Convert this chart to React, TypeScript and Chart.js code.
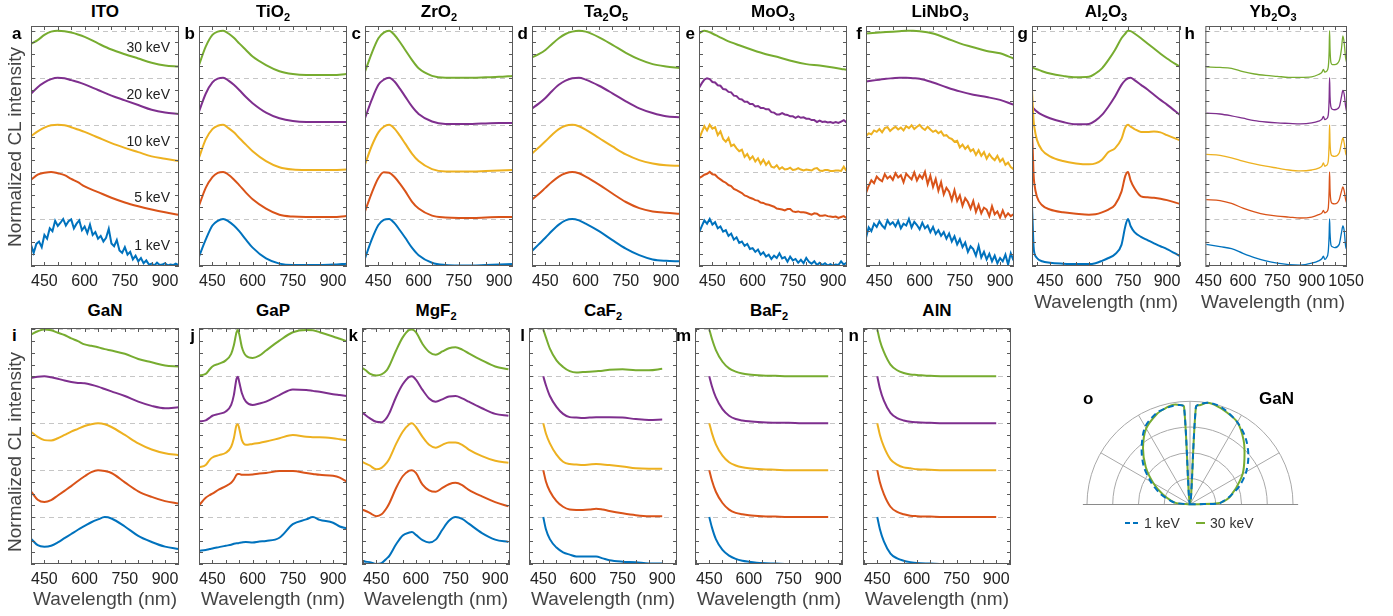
import React, { useEffect, useRef } from 'react';
import { Chart, registerables } from 'chart.js';

Chart.register(...registerables);

const FONT = '"Liberation Sans", Arial, Helvetica, sans-serif';
const COLORS = ['#0072BD', '#D95319', '#EDB120', '#7E2F8E', '#77AC30'];
const ENERGIES = ['1 keV', '5 keV', '10 keV', '20 keV', '30 keV'];
const XTICKS = [450, 600, 750, 900];
const XTICKS_YB = [450, 600, 750, 900, 1050];

// shared wavelength grids (nm)
const X10 = [400,410,420,430,440,450,460,470,480,490,500,510,520,530,540,550,560,570,580,590,600,610,620,630,640,650,660,670,680,690,700,710,720,730,740,750,760,770,780,790,800,810,820,830,840,850,860,870,880,890,900,910,920,930,940,950];
const X16 = [400,425,450,475,500,525,550,575,600,650,700,750,800,850,900,950];
const XPK = [400,425,450,470,490,510,530,550,575,600,650,700,750,800,850,900,950];

// a ITO
const ITO_30 = [.72,.80,.91,.98,1.0,.99,.96,.92,.87,.73,.60,.50,.41,.32,.26,.24];
const ITO_20 = [.66,.80,.90,.97,1.0,.99,.95,.91,.86,.74,.62,.52,.42,.32,.26,.23];
const ITO_10 = [.76,.86,.94,.99,1.0,.99,.95,.90,.85,.73,.61,.51,.42,.33,.28,.23];
const ITO_5 = [.83,.94,.98,1.0,.97,.93,.85,.78,.69,.57,.45,.35,.27,.20,.14,.09];
const ITO_1 = [.45,.28,.47,.52,.40,.66,.58,.80,.74,.96,.85,.92,1.0,.86,.95,.99,.80,.90,.97,.76,.84,.70,.88,.66,.72,.58,.64,.52,.60,.79,.48,.42,.55,.33,.28,.40,.24,.30,.14,.22,.10,.17,.06,.12,.03,.05,.01,.07,.02,.03,.06,.01,.03,.02,.05,.02];

// b TiO2
const TIO2_30 = [.27,.66,.91,.98,1.0,.94,.85,.73,.59,.45,.27,.14,.08,.06,.06,.06,.08];
const TIO2_20 = [.28,.66,.90,.98,1.0,.94,.85,.74,.59,.46,.26,.14,.08,.06,.06,.06,.06];
const TIO2_10 = [.30,.69,.91,.98,1.0,.93,.84,.72,.58,.44,.23,.10,.05,.04,.04,.04,.05];
const TIO2_5 = [.28,.66,.89,.98,1.0,.94,.84,.72,.56,.42,.22,.09,.05,.04,.04,.04,.06];
const TIO2_1 = [.20,.56,.86,.96,1.0,.95,.86,.74,.56,.39,.16,.05,.02,.02,.02,.03,.05];

// c ZrO2
const ZRO2_30 = [.13,.52,.84,.96,1.0,.91,.76,.59,.38,.20,.04,0,0,0,.01,.02,.04];
const ZRO2_20 = [.14,.53,.85,.96,1.0,.92,.77,.60,.39,.23,.07,.02,.02,.02,.03,.04,.04];
const ZRO2_10 = [.16,.55,.84,.96,1.0,.92,.77,.60,.39,.23,.06,.01,.01,.01,.02,.03,.04];
const ZRO2_5 = [.16,.55,.87,.99,.98,.89,.75,.59,.37,.22,.07,.03,.02,.02,.03,.04,.04];
const ZRO2_1 = [.16,.56,.87,.98,1.0,.91,.76,.60,.39,.23,.07,.02,.01,.01,.02,.03,.04];

// d Ta2O5
const TA2O5_30 = [.43,.50,.59,.72,.84,.93,.98,1.0,.98,.86,.70,.53,.39,.29,.24,.21];
const TA2O5_20 = [.35,.45,.57,.72,.85,.94,.99,1.0,.96,.83,.67,.50,.35,.25,.18,.16];
const TA2O5_10 = [.39,.52,.65,.79,.91,.98,1.0,.97,.90,.72,.54,.37,.25,.18,.14,.13];
const TA2O5_5 = [.41,.53,.66,.79,.90,.97,1.0,.97,.90,.73,.54,.36,.23,.16,.13,.11];
const TA2O5_1 = [.32,.46,.60,.75,.88,.97,1.0,.97,.90,.74,.55,.37,.23,.14,.11,.10];

// e MoO3
const MOO3_X30 = [400,410,420,430,450,475,500,550,600,650,700,750,800,850,900,940,950];
const MOO3_30 = [.94,.98,1.0,.99,.94,.87,.80,.69,.59,.50,.43,.35,.29,.26,.22,.18,.17];
const MOO3_20 = [.78,.88,.96,.99,.97,.91,.90,.84,.83,.76,.75,.70,.69,.62,.61,.55,.54,.49,.49,.44,.44,.39,.40,.36,.36,.33,.33,.27,.26,.22,.22,.25,.22,.21,.18,.18,.15,.18,.15,.16,.13,.13,.10,.10,.06,.09,.06,.07,.05,.06,.04,.06,.04,.07,.10,.05];
const MOO3_10 = [.69,.84,.97,.88,1.0,.92,.95,.78,.86,.70,.64,.72,.55,.58,.50,.44,.47,.32,.38,.27,.33,.22,.29,.17,.26,.15,.22,.11,.09,.14,.06,.10,.05,.06,.09,.04,.05,.08,.05,.03,.05,.04,.03,.07,.08,.03,.02,.04,.04,.02,.02,.03,.03,.02,.11,.02];
const MOO3_5 = [.87,.90,.94,.96,1.0,.95,.94,.88,.84,.80,.77,.72,.70,.64,.61,.58,.55,.50,.48,.45,.43,.40,.39,.35,.34,.31,.30,.28,.26,.22,.21,.20,.18,.21,.21,.16,.15,.16,.14,.14,.13,.11,.09,.12,.11,.07,.07,.08,.06,.05,.04,.05,.02,.04,.06,.02];
const MOO3_1 = [.71,.84,.97,.90,1.0,.88,.93,.80,.84,.73,.76,.64,.69,.56,.61,.49,.52,.43,.47,.36,.38,.30,.35,.24,.29,.20,.24,.15,.22,.17,.27,.16,.19,.09,.20,.12,.15,.07,.13,.06,.17,.09,.05,.10,.02,.07,.02,.06,.01,.04,.01,.03,.02,.10,.03,.07];

// f LiNbO3
const LINBO3_30 = [.94,.95,.96,.97,.98,.99,1.0,1.0,.99,.94,.84,.73,.65,.57,.52,.41];
const LINBO3_20 = [.92,.94,.96,.98,.99,1.0,1.0,.99,.98,.90,.80,.71,.64,.59,.53,.43];
const LINBO3_10 = [.76,.82,.80,.88,.85,.91,.84,.93,.95,.87,.92,.96,.90,.94,.88,.97,.93,.99,.91,.96,1.0,.93,.89,.96,.90,.85,.88,.82,.86,.77,.78,.72,.70,.64,.66,.52,.58,.49,.55,.44,.48,.36,.46,.34,.42,.28,.38,.30,.25,.34,.22,.28,.15,.20,.10,.06];
const LINBO3_5 = [.55,.70,.82,.76,.90,.84,.80,.95,.86,.91,.83,.97,.88,.93,.78,.96,.90,.84,.99,.82,.93,.86,1.0,.74,.92,.68,.85,.60,.78,.52,.66,.58,.40,.61,.38,.50,.28,.44,.36,.22,.38,.15,.30,.12,.24,.20,.06,.27,.10,.16,.03,.18,.04,.12,.06,.10];
const LINBO3_1 = [.60,.82,.74,.90,.83,.95,.86,.80,.97,.88,.93,.84,.96,.80,.90,.86,1.0,.82,.94,.87,.78,.92,.80,.86,.72,.83,.68,.76,.64,.72,.58,.69,.52,.63,.46,.57,.40,.50,.30,.42,.36,.22,.43,.18,.30,.14,.26,.10,.22,.06,.17,.10,.24,.03,.27,.12];

// g Al2O3
const AL2O3_X = [381,384,387,390,400,420,450,500,550,600,625,650,675,700,725,740,750,760,775,800,825,850,875,900,950];
const AL2O3_30 = [.23,.22,.21,.20,.18,.14,.09,.04,.01,.02,.09,.20,.38,.59,.84,.94,1.0,.99,.94,.84,.73,.62,.51,.41,.23];
const AL2O3_20 = [.39,.37,.35,.33,.28,.21,.14,.06,.01,.02,.09,.21,.39,.60,.85,.95,.99,1.0,.95,.85,.75,.64,.53,.43,.21];
const AL2O3_10 = [1.74,1.40,1.10,.95,.68,.46,.33,.23,.18,.16,.18,.26,.42,.50,.70,.95,1.0,.96,.91,.85,.85,.86,.84,.78,.67];
const AL2O3_5 = [1.86,1.45,.95,.75,.47,.29,.20,.14,.11,.09,.10,.14,.20,.30,.58,.92,1.0,.82,.65,.48,.46,.45,.43,.40,.32];
const AL2O3_1 = [1.29,.85,.42,.28,.17,.10,.07,.05,.04,.04,.06,.11,.17,.25,.45,.85,1.0,.85,.72,.62,.55,.48,.42,.36,.21];

// h Yb2O3
const YB2O3_X = [440,500,550,600,650,700,750,800,850,900,930,945,951,957,965,972,976,978,980,984,990,1000,1020,1030,1036,1042,1048,1054];
const YB2O3_30 = [.23,.22,.20,.13,.08,.05,.03,.01,.01,.02,.07,.12,.18,.12,.14,.22,.55,1.0,.60,.32,.28,.28,.36,.62,.89,.73,.42,.30];
const YB2O3_20 = [.25,.23,.19,.14,.09,.06,.04,.03,.02,.04,.08,.12,.18,.11,.13,.20,.55,1.0,.60,.38,.33,.32,.38,.60,.73,.64,.39,.25];
const YB2O3_10 = [.37,.35,.30,.23,.17,.12,.08,.04,.02,.04,.08,.13,.19,.12,.14,.22,.60,1.0,.62,.38,.34,.33,.40,.61,.72,.61,.40,.33];
const YB2O3_5 = [.41,.39,.33,.23,.15,.09,.06,.04,.02,.04,.09,.13,.18,.13,.15,.22,.60,1.0,.62,.38,.33,.32,.41,.59,.68,.59,.41,.32];
const YB2O3_1 = [.46,.41,.37,.27,.18,.11,.06,.03,.02,.06,.11,.16,.21,.14,.18,.30,.65,1.0,.70,.45,.41,.39,.46,.71,.85,.74,.42,.34];

// i GaN
const GAN_X = [400,425,450,475,500,525,550,575,600,625,650,675,700,750,800,850,900,950];
const GAN_30 = [.89,.96,1.0,.98,.93,.88,.81,.75,.68,.65,.62,.58,.55,.48,.37,.30,.23,.21];
const GAN_20 = [.97,.99,1.0,.98,.95,.91,.88,.86,.85,.82,.78,.73,.68,.58,.46,.37,.32,.34];
const GAN_10 = [.82,.71,.64,.63,.68,.75,.82,.88,.94,.98,1.0,.98,.92,.75,.57,.44,.36,.32];
const GAN_5 = [.55,.37,.32,.36,.46,.56,.66,.77,.87,.96,1.0,.98,.94,.74,.55,.43,.34,.29];
const GAN_1 = [.54,.40,.37,.39,.46,.55,.64,.73,.81,.89,.95,1.0,.97,.80,.60,.47,.37,.32];

// j GaP
const GAP_X = [400,425,440,450,475,500,520,530,540,545,550,560,575,600,625,650,700,750,800,825,850,900,925,950];
const GAP_30 = [.02,.05,.15,.21,.27,.34,.48,.66,.94,.99,.90,.62,.44,.39,.44,.55,.76,.94,.99,.98,.94,.85,.80,.75];
const GAP_20 = [.04,.06,.12,.16,.20,.25,.39,.60,.95,.99,.88,.64,.46,.39,.42,.46,.60,.72,.71,.69,.67,.62,.60,.58];
const GAP_10 = [.06,.11,.22,.27,.32,.37,.50,.68,.96,.98,.89,.64,.54,.56,.58,.61,.68,.75,.71,.70,.70,.68,.66,.64];
const GAP_5 = [.25,.41,.47,.50,.59,.66,.73,.80,.90,.92,.92,.90,.90,.91,.93,.94,.98,.98,.94,.92,.90,.88,.84,.76];
const GAP_1 = [.28,.30,.32,.33,.36,.39,.41,.43,.44,.44,.45,.46,.47,.46,.48,.49,.56,.85,.95,1.0,.94,.88,.80,.76];

// k MgF2
const MGF2_X = [396,410,425,450,470,490,500,525,550,575,585,600,625,650,675,700,725,750,775,800,850,900,950];
const MGF2_30 = [.18,.13,.06,.02,.04,.13,.23,.55,.83,.99,1.0,.94,.69,.52,.46,.53,.60,.62,.57,.49,.34,.21,.15];
const MGF2_20 = [.23,.17,.11,.03,.02,.12,.22,.56,.83,.99,1.0,.93,.71,.53,.46,.51,.57,.58,.53,.46,.32,.20,.16];
const MGF2_10 = [.18,.14,.10,.02,.05,.16,.25,.56,.82,.98,1.0,.92,.71,.54,.48,.54,.59,.59,.54,.44,.30,.20,.16];
const MGF2_5 = [.16,.13,.09,.02,.06,.20,.30,.62,.87,.99,1.0,.94,.69,.57,.54,.62,.70,.73,.68,.58,.44,.32,.23];
const MGF2_1 = [.07,.05,.04,0,.02,.12,.18,.42,.61,.67,.68,.62,.51,.46,.52,.73,.92,1.0,.96,.86,.66,.52,.47];

// l CaF2
const CAF2_X = [450,460,475,500,525,550,575,600,625,650,675,700,750,800,850,900];
const CAF2_30 = [1.0,.83,.59,.34,.20,.11,.08,.09,.10,.11,.12,.14,.15,.13,.13,.16];
const CAF2_20 = [1.0,.81,.58,.35,.20,.13,.12,.11,.12,.13,.13,.13,.12,.09,.07,.08];
const CAF2_10 = [1.0,.78,.57,.33,.18,.13,.12,.11,.12,.13,.12,.11,.08,.04,.03,.03];
const CAF2_5 = [1.0,.76,.55,.34,.22,.16,.15,.15,.16,.18,.16,.13,.08,.04,.02,.02];
const CAF2_1 = [1.0,.74,.53,.35,.25,.20,.16,.16,.16,.16,.12,.08,.05,.04,.01,.01];

// m BaF2, n AlN
const DECAY_X = [450,460,475,500,525,550,575,600,650,700,750,800,850,900];
const BAF2_30 = [1.0,.80,.56,.31,.17,.10,.06,.04,.02,.01,0,0,0,0];
const BAF2_20 = [1.0,.79,.55,.30,.16,.09,.06,.04,.02,.01,.01,0,0,0];
const BAF2_10 = [1.0,.79,.55,.31,.17,.10,.06,.04,.02,.01,0,0,0,0];
const BAF2_5 = [1.0,.78,.54,.30,.16,.09,.06,.04,.02,.01,0,0,0,0];
const BAF2_1 = [1.0,.78,.53,.30,.18,.11,.07,.05,.02,.01,0,0,0,0];
const ALN_30 = [1.0,.76,.52,.25,.13,.07,.04,.03,.01,0,0,0,0,0];
const ALN_20 = [1.0,.74,.48,.22,.11,.06,.03,.02,.01,0,0,0,0,0];
const ALN_10 = [1.0,.75,.50,.23,.12,.06,.04,.02,.01,0,0,0,0,0];
const ALN_5 = [1.0,.74,.49,.22,.11,.06,.03,.02,.01,0,0,0,0,0];
const ALN_1 = [1.0,.74,.48,.22,.12,.07,.04,.02,.01,0,0,0,0,0];

// o GaN angular emission (polar, degrees / normalized radius)
const POLAR_ANGLE = [0,1.5,5,10,15,20,30,40,50,60,70,75,80,84,86.5,90,93.5,96,100,105,110,120,130,140,150,160,170,175,180];
const POLAR_30KEV = [0,.25,.33,.39,.43,.48,.59,.69,.81,.92,.97,.99,1.0,.97,.95,0,.95,.97,.98,.96,.935,.85,.71,.56,.41,.28,.18,.13,0];
const POLAR_1KEV = [0,.28,.32,.38,.44,.51,.63,.74,.84,.92,.98,1.0,1.0,.98,.95,0,.95,.97,.97,.96,.945,.87,.73,.59,.44,.31,.19,.13,0];

type Series = { x: number[]; y: number[]; smooth: boolean };
type PanelDef = {
  title: string; letter: string; left: number; row: 0 | 1;
  xmin: number; xmax: number; xticks: number[]; series: Series[];
  lw?: number; xlabel?: boolean;
};

const S = (x: number[], y: number[], smooth = true): Series => ({ x, y, smooth });

const ROWS = [
  { top: 26, h: 240, ymax: 5.1 },
  { top: 328, h: 236, ymax: 5.03 },
];
const PW = 148;

const PANELS: PanelDef[] = [
  { title: 'ITO', letter: 'a', left: 31, row: 0, xmin: 400, xmax: 952, xticks: XTICKS,
    series: [S(X10, ITO_1, false), S(X16, ITO_5), S(X16, ITO_10), S(X16, ITO_20), S(X16, ITO_30)] },
  { title: 'TiO2', letter: 'b', left: 199, row: 0, xmin: 400, xmax: 952, xticks: XTICKS,
    series: [S(XPK, TIO2_1), S(XPK, TIO2_5), S(XPK, TIO2_10), S(XPK, TIO2_20), S(XPK, TIO2_30)] },
  { title: 'ZrO2', letter: 'c', left: 365, row: 0, xmin: 400, xmax: 952, xticks: XTICKS,
    series: [S(XPK, ZRO2_1), S(XPK, ZRO2_5), S(XPK, ZRO2_10), S(XPK, ZRO2_20), S(XPK, ZRO2_30)] },
  { title: 'Ta2O5', letter: 'd', left: 532, row: 0, xmin: 400, xmax: 952, xticks: XTICKS,
    series: [S(X16, TA2O5_1), S(X16, TA2O5_5), S(X16, TA2O5_10), S(X16, TA2O5_20), S(X16, TA2O5_30)] },
  { title: 'MoO3', letter: 'e', left: 699, row: 0, xmin: 400, xmax: 952, xticks: XTICKS,
    series: [S(X10, MOO3_1, false), S(X10, MOO3_5, false), S(X10, MOO3_10, false), S(X10, MOO3_20, false), S(MOO3_X30, MOO3_30)] },
  { title: 'LiNbO3', letter: 'f', left: 866, row: 0, xmin: 400, xmax: 952, xticks: XTICKS,
    series: [S(X10, LINBO3_1, false), S(X10, LINBO3_5, false), S(X10, LINBO3_10, false), S(X16, LINBO3_20), S(X16, LINBO3_30)] },
  { title: 'Al2O3', letter: 'g', left: 1032, row: 0, xmin: 381, xmax: 950, xticks: XTICKS, xlabel: true,
    series: [S(AL2O3_X, AL2O3_1), S(AL2O3_X, AL2O3_5), S(AL2O3_X, AL2O3_10), S(AL2O3_X, AL2O3_20), S(AL2O3_X, AL2O3_30)] },
  { title: 'Yb2O3', letter: 'h', left: 1199, row: 0, xmin: 436, xmax: 1054, xticks: XTICKS_YB, xlabel: true, lw: 1.3,
    series: [S(YB2O3_X, YB2O3_1), S(YB2O3_X, YB2O3_5), S(YB2O3_X, YB2O3_10), S(YB2O3_X, YB2O3_20), S(YB2O3_X, YB2O3_30)] },
  { title: 'GaN', letter: 'i', left: 31, row: 1, xmin: 400, xmax: 952, xticks: XTICKS, xlabel: true,
    series: [S(GAN_X, GAN_1), S(GAN_X, GAN_5), S(GAN_X, GAN_10), S(GAN_X, GAN_20), S(GAN_X, GAN_30)] },
  { title: 'GaP', letter: 'j', left: 199, row: 1, xmin: 400, xmax: 952, xticks: XTICKS, xlabel: true,
    series: [S(GAP_X, GAP_1), S(GAP_X, GAP_5), S(GAP_X, GAP_10), S(GAP_X, GAP_20), S(GAP_X, GAP_30)] },
  { title: 'MgF2', letter: 'k', left: 362, row: 1, xmin: 396, xmax: 956, xticks: XTICKS, xlabel: true,
    series: [S(MGF2_X, MGF2_1), S(MGF2_X, MGF2_5), S(MGF2_X, MGF2_10), S(MGF2_X, MGF2_20), S(MGF2_X, MGF2_30)] },
  { title: 'CaF2', letter: 'l', left: 529, row: 1, xmin: 396, xmax: 956, xticks: XTICKS, xlabel: true,
    series: [S(CAF2_X, CAF2_1), S(CAF2_X, CAF2_5), S(CAF2_X, CAF2_10), S(CAF2_X, CAF2_20), S(CAF2_X, CAF2_30)] },
  { title: 'BaF2', letter: 'm', left: 695, row: 1, xmin: 396, xmax: 956, xticks: XTICKS, xlabel: true,
    series: [S(DECAY_X, BAF2_1), S(DECAY_X, BAF2_5), S(DECAY_X, BAF2_10), S(DECAY_X, BAF2_20), S(DECAY_X, BAF2_30)] },
  { title: 'AlN', letter: 'n', left: 863, row: 1, xmin: 396, xmax: 956, xticks: XTICKS, xlabel: true,
    series: [S(DECAY_X, ALN_1), S(DECAY_X, ALN_5), S(DECAY_X, ALN_10), S(DECAY_X, ALN_20), S(DECAY_X, ALN_30)] },
];

const PL = 10, PR = 24, PT = 4, AXH = 26;

const framePlugin = {
  id: 'frame',
  beforeDatasetsDraw(chart: any) {
    const { ctx, chartArea: a, scales } = chart;
    const y = scales.y;
    ctx.save();
    ctx.strokeStyle = '#c6c6c6';
    ctx.lineWidth = 1;
    ctx.setLineDash([5, 4]);
    for (let k = 1; k <= 5; k++) {
      const py = Math.round(y.getPixelForValue(k)) + 0.5;
      ctx.beginPath();
      ctx.moveTo(a.left, py);
      ctx.lineTo(a.right, py);
      ctx.stroke();
    }
    ctx.restore();
  },
  afterDatasetsDraw(chart: any) {
    const { ctx, chartArea: a, scales } = chart;
    const x = scales.x, y = scales.y;
    ctx.save();
    ctx.strokeStyle = '#5a5a5a';
    ctx.lineWidth = 1;
    ctx.strokeRect(a.left + 0.5, a.top + 0.5, a.right - a.left - 1, a.bottom - a.top - 1);
    ctx.beginPath();
    for (let v = Math.ceil(x.min / 50) * 50; v <= x.max; v += 50) {
      const px = Math.round(x.getPixelForValue(v)) + 0.5;
      ctx.moveTo(px, a.bottom); ctx.lineTo(px, a.bottom - 4);
      ctx.moveTo(px, a.top); ctx.lineTo(px, a.top + 4);
    }
    for (let k = 0; k <= 20; k++) {
      const py = Math.round(y.getPixelForValue(k * 0.25)) + 0.5;
      ctx.moveTo(a.left, py); ctx.lineTo(a.left + 4, py);
      ctx.moveTo(a.right, py); ctx.lineTo(a.right - 4, py);
    }
    ctx.stroke();
    ctx.restore();
  },
};

function Panel({ p }: { p: PanelDef }) {
  const ref = useRef<HTMLCanvasElement>(null);
  const row = ROWS[p.row];
  const W = PL + PW + PR;
  const H = PT + row.h + AXH;
  useEffect(() => {
    const datasets = p.series.map((s, i) => ({
      data: s.x.map((xv, j) => ({ x: xv, y: s.y[j] + i })),
      borderColor: COLORS[i],
      borderWidth: p.lw ?? 2,
      pointRadius: 0,
      fill: false,
      tension: 0,
      cubicInterpolationMode: s.smooth ? 'monotone' : 'default',
    }));
    const chart = new Chart(ref.current!, {
      type: 'line',
      data: { datasets } as any,
      options: {
        responsive: false,
        animation: false,
        events: [],
        layout: { padding: { left: PL, right: PR, top: PT, bottom: 0 } },
        plugins: { legend: { display: false }, tooltip: { enabled: false } },
        scales: {
          x: {
            type: 'linear', min: p.xmin, max: p.xmax,
            grid: { display: false, drawTicks: false },
            border: { display: false },
            ticks: {
              font: { size: 16, family: FONT }, color: '#222', padding: 6,
              maxRotation: 0, autoSkip: false,
              callback: (v: any) => String(v),
            },
            afterBuildTicks: (s: any) => { s.ticks = p.xticks.map((v) => ({ value: v })); },
            afterFit: (s: any) => { s.height = AXH; },
          },
          y: { type: 'linear', min: 0, max: row.ymax, display: false },
        },
      } as any,
      plugins: [framePlugin],
    });
    return () => chart.destroy();
  }, []);
  return (
    <canvas ref={ref} width={W} height={H}
      style={{ position: 'absolute', left: p.left - PL, top: row.top - PT, width: W, height: H }} />
  );
}

const gridPlugin = {
  id: 'polarGrid',
  beforeDatasetsDraw(chart: any) {
    const { ctx, scales } = chart;
    const x = scales.x, y = scales.y;
    const cx = x.getPixelForValue(0), cy = y.getPixelForValue(0);
    const R = x.getPixelForValue(1) - cx;
    ctx.save();
    ctx.strokeStyle = '#a8a8a8';
    ctx.lineWidth = 1;
    [0.25, 0.5, 0.75, 1].forEach((r) => {
      ctx.beginPath();
      ctx.arc(cx, cy, r * R, Math.PI, 2 * Math.PI);
      ctx.stroke();
    });
    for (let d = 30; d <= 150; d += 30) {
      const t = (d * Math.PI) / 180;
      ctx.beginPath();
      ctx.moveTo(cx, cy);
      ctx.lineTo(cx + R * Math.cos(t), cy - R * Math.sin(t));
      ctx.stroke();
    }
    ctx.strokeStyle = '#8a8a8a';
    ctx.beginPath();
    ctx.moveTo(x.getPixelForValue(-1.04), Math.round(cy) + 0.5);
    ctx.lineTo(x.getPixelForValue(1.05), Math.round(cy) + 0.5);
    ctx.stroke();
    ctx.restore();
  },
};

function PolarChart() {
  const ref = useRef<HTMLCanvasElement>(null);
  useEffect(() => {
    const toXY = (r: number[]) => POLAR_ANGLE.map((a, i) => ({
      x: r[i] * Math.cos((a * Math.PI) / 180),
      y: r[i] * Math.sin((a * Math.PI) / 180),
    }));
    const chart = new Chart(ref.current!, {
      type: 'scatter',
      data: {
        datasets: [
          { data: toXY(POLAR_1KEV), showLine: true, borderColor: COLORS[0], borderWidth: 2, borderDash: [6, 4], pointRadius: 0, tension: 0.3 },
          { data: toXY(POLAR_30KEV), showLine: true, borderColor: COLORS[4], borderWidth: 2, pointRadius: 0, tension: 0.3 },
        ],
      } as any,
      options: {
        responsive: false,
        animation: false,
        events: [],
        layout: { padding: 0 },
        plugins: { legend: { display: false }, tooltip: { enabled: false } },
        scales: {
          x: { type: 'linear', min: -1.165, max: 1.165, display: false },
          y: { type: 'linear', min: -0.104, max: 1.1, display: false },
        },
      } as any,
      plugins: [gridPlugin],
    });
    return () => chart.destroy();
  }, []);
  return <canvas ref={ref} width={240} height={124} style={{ position: 'absolute', left: 1070, top: 391, width: 240, height: 124 }} />;
}

function Formula({ text }: { text: string }) {
  const parts = text.split(/(\d+)/).filter(Boolean);
  return (
    <>
      {parts.map((s, i) => /^\d+$/.test(s)
        ? <span key={i} style={{ fontSize: 11, position: 'relative', top: 4 }}>{s}</span>
        : <span key={i}>{s}</span>)}
    </>
  );
}

const abs = (o: React.CSSProperties): React.CSSProperties => ({ position: 'absolute', whiteSpace: 'nowrap', ...o });

export default function App() {
  const titleCenters = [12, 311];
  const letterCenters = [34, 336];
  const ylabelCenters = [147, 452];
  const energyY = [245, 197, 141, 94, 47];
  return (
    <div style={{ position: 'absolute', left: 0, top: 0, width: 1393, height: 616, background: '#fff', fontFamily: FONT, color: '#000', overflow: 'hidden' }}>
      {PANELS.map((p) => <Panel key={p.letter} p={p} />)}
      {PANELS.map((p) => (
        <div key={'t' + p.letter} style={abs({ left: p.left, width: PW, top: titleCenters[p.row] - 10, height: 20, lineHeight: '20px', textAlign: 'center', fontWeight: 'bold', fontSize: 17 })}>
          <Formula text={p.title} />
        </div>
      ))}
      {PANELS.map((p) => (
        <div key={'l' + p.letter} style={abs(p.left < 40
          ? { left: 12, top: letterCenters[p.row] - 10, lineHeight: '20px', fontWeight: 'bold', fontSize: 17 }
          : { left: p.left - 34, width: 30, textAlign: 'right', top: letterCenters[p.row] - 10, lineHeight: '20px', fontWeight: 'bold', fontSize: 17 })}>
          {p.letter}
        </div>
      ))}
      {PANELS.filter((p) => p.xlabel).map((p) => (
        <div key={'x' + p.letter} style={abs({ left: p.left - 20, width: PW + 40, textAlign: 'center', top: (p.row === 0 ? 302 : 599) - 12, lineHeight: '24px', fontSize: 19, color: '#444' })}>
          Wavelength (nm)
        </div>
      ))}
      {ylabelCenters.map((c, i) => (
        <div key={'y' + i} style={abs({ left: 15 - 120, top: c - 12, width: 240, height: 24, lineHeight: '24px', textAlign: 'center', fontSize: 19, color: '#444', transform: 'rotate(-90deg)' })}>
          Normalized CL intensity
        </div>
      ))}
      {ENERGIES.map((e, i) => (
        <div key={'e' + i} style={abs({ left: 100, width: 70, textAlign: 'right', top: energyY[i] - 9, lineHeight: '18px', fontSize: 14, color: '#222' })}>
          {e}
        </div>
      ))}
      <PolarChart />
      <div style={abs({ left: 1083, top: 389, lineHeight: '20px', fontWeight: 'bold', fontSize: 17 })}>o</div>
      <div style={abs({ left: 1234, width: 60, textAlign: 'right', top: 389, lineHeight: '20px', fontWeight: 'bold', fontSize: 17 })}>GaN</div>
      <div style={abs({ left: 1125, top: 522, width: 5, height: 2, background: COLORS[0] })} />
      <div style={abs({ left: 1133, top: 522, width: 5, height: 2, background: COLORS[0] })} />
      <div style={abs({ left: 1144, top: 514, lineHeight: '18px', fontSize: 14, color: '#333' })}>1 keV</div>
      <div style={abs({ left: 1196, top: 522, width: 9, height: 2, background: COLORS[4] })} />
      <div style={abs({ left: 1210, top: 514, lineHeight: '18px', fontSize: 14, color: '#333' })}>30 keV</div>
    </div>
  );
}
